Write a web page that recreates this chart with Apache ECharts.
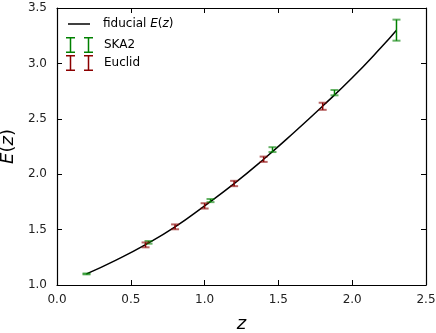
<!DOCTYPE html>
<html>
<head>
<meta charset="utf-8">
<script src="https://cdn.jsdelivr.net/npm/echarts@6/dist/echarts.min.js"></script>
<style>
  html, body { margin: 0; padding: 0; background: #fff; }
  #chart { width: 436px; height: 333px; }
</style>
</head>
<body>
<div id="chart"></div>
<script>
// fiducial curve
var fiducialZ = [0.2, 0.4, 0.6, 0.8, 1.0, 1.2, 1.4, 1.6, 1.8, 2.0, 2.2, 2.3];
var fiducialE = [1.10, 1.225, 1.365, 1.525, 1.715, 1.915, 2.135, 2.37, 2.615, 2.87, 3.15, 3.30];

// SKA2 points
var ska2Z = [0.2, 0.62, 1.04, 1.46, 1.88, 2.3];
var ska2E = [1.10, 1.385, 1.762, 2.222, 2.736, 3.30];
var ska2Err = [0.004, 0.012, 0.014, 0.022, 0.024, 0.095];

// Euclid points
var euclidZ = [0.6, 0.8, 1.0, 1.2, 1.4, 1.8];
var euclidE = [1.362, 1.525, 1.714, 1.916, 2.135, 2.613];
var euclidErr = [0.022, 0.022, 0.024, 0.024, 0.024, 0.032];

var font = 'DejaVu Sans';
var green = '#008000';
var red = '#8b0000';

function zip3(a, b, c) {
  return a.map(function (v, i) { return [v, b[i], c[i]]; });
}

function errorBar(params, api) {
  var x = api.value(0), y = api.value(1), e = api.value(2);
  var hi = api.coord([x, y + e]);
  var lo = api.coord([x, y - e]);
  var w = 4;
  var color = api.visual('color');
  var stem = { stroke: color, lineWidth: 1.5 };
  var cap = { stroke: color, lineWidth: 2, opacity: 0.6 };
  return {
    type: 'group',
    children: [
      { type: 'line', shape: { x1: hi[0], y1: hi[1], x2: lo[0], y2: lo[1] }, style: stem },
      { type: 'line', shape: { x1: hi[0] - w, y1: hi[1], x2: hi[0] + w, y2: hi[1] }, style: cap },
      { type: 'line', shape: { x1: lo[0] - w, y1: lo[1], x2: lo[0] + w, y2: lo[1] }, style: cap }
    ]
  };
}

// two little I-beams, like the matplotlib legend handle
var ibeams = 'path://M0,0H9V1.5H5.25V14.5H9V16H0V14.5H3.75V1.5H0Z' +
             'M18,0H27V1.5H23.25V14.5H27V16H18V14.5H21.75V1.5H18Z';
var dash = 'path://M0,0H22V1.5H0Z';

var tickLabel = { color: '#222', fontFamily: font, fontSize: 12 };
var tick = { show: true, inside: true, length: 5, lineStyle: { color: '#000', width: 1 } };
var line = { show: true, onZero: false, lineStyle: { color: '#000', width: 1.2 } };

var myChart = echarts.init(document.getElementById('chart'));
myChart.setOption({
  animation: false,
  grid: { left: 57, right: 10, top: 8, bottom: 48, containLabel: false, outerBoundsMode: 'none' },
  legend: [{
    data: [{ name: 'fiducial', icon: dash }],
    left: 68, top: 18, padding: 0,
    itemWidth: 22, itemHeight: 14,
    formatter: function () { return 'fiducial {i|E}({i|z})'; },
    textStyle: {
      color: '#000', fontFamily: font, fontSize: 12, padding: [0, 0, 0, 8],
      rich: { i: { fontStyle: 'italic', fontFamily: font, fontSize: 12, color: '#000' } }
    }
  }, {
    data: [{ name: 'SKA2', icon: ibeams }],
    left: 66, top: 37, padding: 0,
    itemWidth: 27, itemHeight: 16,
    textStyle: { color: '#000', fontFamily: font, fontSize: 12, padding: [0, 0, 0, 6] }
  }, {
    data: [{ name: 'Euclid', icon: ibeams }],
    left: 66, top: 55, padding: 0,
    itemWidth: 27, itemHeight: 16,
    textStyle: { color: '#000', fontFamily: font, fontSize: 12, padding: [0, 0, 0, 6] }
  }],
  xAxis: [{
    type: 'value', min: 0, max: 2.5, interval: 0.5,
    name: 'z', nameLocation: 'middle', nameGap: 30,
    nameTextStyle: { fontFamily: font, fontSize: 18, fontStyle: 'italic', color: '#000' },
    axisLine: line, axisTick: tick,
    axisLabel: Object.assign({ margin: 9, formatter: function (v) { return v.toFixed(1); } }, tickLabel),
    splitLine: { show: false }
  }, {
    type: 'value', position: 'top', min: 0, max: 2.5, interval: 0.5,
    axisLine: line, axisTick: tick, axisLabel: { show: false }, splitLine: { show: false }
  }],
  yAxis: [{
    type: 'value', min: 1.0, max: 3.5, interval: 0.5,
    name: '{i|E}({i|z})', nameLocation: 'middle', nameGap: 33,
    nameTextStyle: {
      fontFamily: font, fontSize: 18, color: '#000',
      rich: { i: { fontFamily: font, fontSize: 18, fontStyle: 'italic', color: '#000' } }
    },
    axisLine: line, axisTick: tick,
    axisLabel: Object.assign({ margin: 10, formatter: function (v) { return v.toFixed(1); } }, tickLabel),
    splitLine: { show: false }
  }, {
    type: 'value', position: 'right', min: 1.0, max: 3.5, interval: 0.5,
    axisLine: line, axisTick: tick, axisLabel: { show: false }, splitLine: { show: false }
  }],
  series: [{
    name: 'fiducial',
    type: 'line',
    data: fiducialZ.map(function (z, i) { return [z, fiducialE[i]]; }),
    smooth: true,
    symbol: 'none',
    lineStyle: { color: '#000', width: 1.5 },
    itemStyle: { color: '#000' },
    z: 2
  }, {
    name: 'SKA2',
    type: 'custom',
    renderItem: errorBar,
    data: zip3(ska2Z, ska2E, ska2Err),
    itemStyle: { color: green },
    encode: { x: 0, y: [1, 2] },
    z: 3
  }, {
    name: 'Euclid',
    type: 'custom',
    renderItem: errorBar,
    data: zip3(euclidZ, euclidE, euclidErr),
    itemStyle: { color: red },
    encode: { x: 0, y: [1, 2] },
    z: 3
  }]
});
</script>
</body>
</html>
